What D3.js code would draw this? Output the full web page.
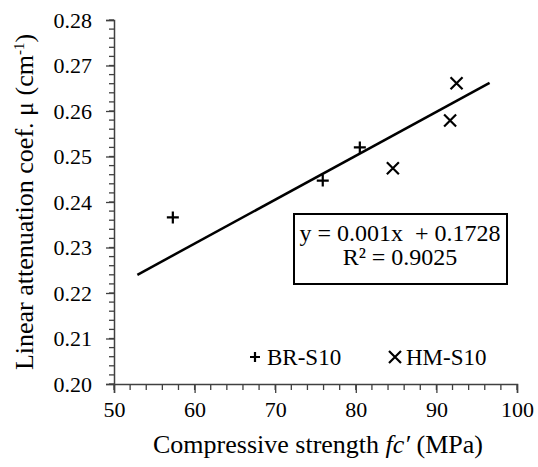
<!DOCTYPE html>
<html><head><meta charset="utf-8">
<script src="https://cdn.jsdelivr.net/npm/d3@7"></script>
<style>body{margin:0;background:#fff}svg{display:block}text{font-family:"Liberation Serif","Times New Roman",serif !important;fill:#000}</style>
</head><body><svg id="c" width="538" height="467"></svg>
<script>
// Data
const brX = [57.3, 75.9, 80.5];
const brY = [0.2366, 0.2447, 0.2520];
const hmX = [84.6, 91.7, 92.5];
const hmY = [0.2474, 0.2579, 0.2661];
const trendX = [52.9, 96.6];
const trendY = [0.2240, 0.2662];
const xTicks = [50, 60, 70, 80, 90, 100];
const yTicks = [0.20, 0.21, 0.22, 0.23, 0.24, 0.25, 0.26, 0.27, 0.28];
const seriesNames = ["BR-S10", "HM-S10"];
const eqLines = ["y = 0.001x  + 0.1728", "R² = 0.9025"];

const FONT = "'Liberation Serif', 'Times New Roman', serif";
const svg = d3.select("#c");
const x = d3.scaleLinear().domain([50, 100]).range([114, 517]);
const y = d3.scaleLinear().domain([0.20, 0.28]).range([384, 20]);
const axisCol = "#404040";

// minor ticks
const xMinor = d3.range(50, 100.001, 2);
const yMinor = d3.range(0.20, 0.2801, 0.002);
const gx = svg.append("g").attr("transform", "translate(0,384)");
gx.selectAll("line.mn").data(xMinor).join("line").attr("x1", d => x(d)).attr("x2", d => x(d))
  .attr("y1", 0).attr("y2", 6).attr("stroke", axisCol).attr("stroke-width", 1.3);
gx.call(d3.axisBottom(x).tickValues(xTicks).tickSize(9).tickPadding(8).tickFormat(d3.format("d")))
  .attr("font-family", null)
  .call(g => g.select(".domain").attr("stroke", axisCol).attr("stroke-width", 1.5))
  .call(g => g.selectAll(".tick line").attr("stroke", axisCol).attr("stroke-width", 1.3))
  .call(g => g.selectAll(".tick text").style("font-size", "22px").style("font-family", FONT).attr("fill", "#000"));

const gy = svg.append("g").attr("transform", "translate(114,0)");
gy.selectAll("line.mn").data(yMinor).join("line").attr("y1", d => y(d)).attr("y2", d => y(d))
  .attr("x1", 0).attr("x2", -5).attr("stroke", axisCol).attr("stroke-width", 1.3);
gy.call(d3.axisLeft(y).tickValues(yTicks).tickSize(8).tickPadding(14).tickFormat(d3.format(".2f")))
  .attr("font-family", null)
  .call(g => g.select(".domain").attr("stroke", axisCol).attr("stroke-width", 1.5))
  .call(g => g.selectAll(".tick line").attr("stroke", axisCol).attr("stroke-width", 1.3))
  .call(g => g.selectAll(".tick text").style("font-size", "22px").style("font-family", FONT).attr("fill", "#000"));

// axis titles
const xt = svg.append("text").attr("x", 318).attr("y", 453).attr("text-anchor", "middle").style("font-size", "26px").style("font-family", FONT);
xt.append("tspan").text("Compressive strength ");
xt.append("tspan").attr("font-style", "italic").text("fc′");
xt.append("tspan").text(" (MPa)");

const yt = svg.append("text").attr("transform", "translate(33,202) rotate(-90)").attr("text-anchor", "middle").style("font-size", "26px").style("font-family", FONT);
yt.append("tspan").text("Linear attenuation coef. μ (cm");
yt.append("tspan").attr("dy", -9).style("font-size", "15px").text("-1");
yt.append("tspan").attr("dy", 9).text(")");

// trendline
const tr = trendX.map((d, i) => [d, trendY[i]]);
svg.append("path").datum(tr).attr("d", d3.line().x(d => x(d[0])).y(d => y(d[1])))
  .attr("stroke", "#000").attr("stroke-width", 2.5).attr("fill", "none");

// markers
function drawPlus(g, cx, cy, s) {
  g.append("path").attr("d", `M${cx - s},${cy}H${cx + s}M${cx},${cy - s}V${cy + s}`)
    .attr("stroke", "#000").attr("stroke-width", 2.2).attr("fill", "none");
}
function drawX(g, cx, cy, s) {
  g.append("path").attr("d", `M${cx - s},${cy - s}L${cx + s},${cy + s}M${cx - s},${cy + s}L${cx + s},${cy - s}`)
    .attr("stroke", "#000").attr("stroke-width", 2.2).attr("fill", "none");
}
const pts = svg.append("g");
brX.forEach((d, i) => drawPlus(pts, x(d), y(brY[i]), 6));
hmX.forEach((d, i) => drawX(pts, x(d), y(hmY[i]), 6));

// equation box
const box = svg.append("g");
box.append("rect").attr("x", 294).attr("y", 214).attr("width", 213).attr("height", 70)
  .attr("fill", "#fff").attr("stroke", "#000").attr("stroke-width", 2);
eqLines.forEach((t, i) => box.append("text").attr("x", 400).attr("y", 241 + i * 24)
  .attr("text-anchor", "middle").style("font-size", "24px").style("font-family", FONT).style("white-space", "pre").text(t));

// legend
const lg = svg.append("g");
drawPlus(lg, 255, 357, 5);
lg.append("text").attr("x", 267).attr("y", 365).style("font-size", "23px").style("font-family", FONT).text(seriesNames[0]);
drawX(lg, 395, 357, 6);
lg.append("text").attr("x", 406).attr("y", 365).style("font-size", "23px").style("font-family", FONT).text(seriesNames[1]);
</script></body></html>
